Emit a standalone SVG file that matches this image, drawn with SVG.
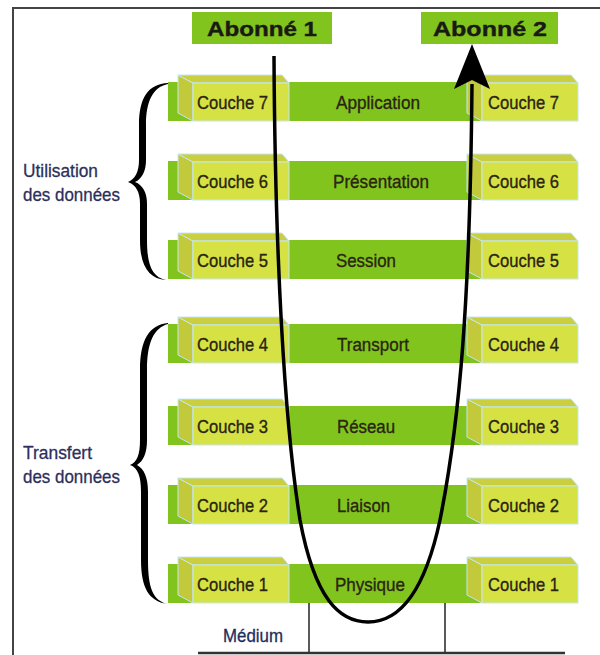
<svg xmlns="http://www.w3.org/2000/svg" xmlns:xlink="http://www.w3.org/1999/xlink" width="600" height="655" viewBox="0 0 600 655">
<style>
.band{fill:#82c41e}
.front{fill:#d6e244;stroke:#c4e6f2;stroke-width:1}
.side{fill:#c2c93a;stroke:#c4e6f2;stroke-width:1}
.top{fill:#c9cf3e;stroke:#c4e6f2;stroke-width:1}
.lbl{font-family:"Liberation Sans",Arial,sans-serif;font-size:19px;fill:#2a2412;stroke:#2a2412;stroke-width:0.35}
.side-lbl{font-family:"Liberation Sans",Arial,sans-serif;font-size:19px;fill:#2d2f5c;stroke:#2d2f5c;stroke-width:0.3}
.ab{font-family:"Liberation Sans",Arial,sans-serif;font-size:21px;font-weight:700;fill:#1a1a14;stroke:#1a1a14;stroke-width:0.4}
.abbox{fill:#82c41e}
.frame{stroke:#444;stroke-width:2;fill:none}
.med{stroke:#222;stroke-width:1.5;fill:none}
.flow{stroke:#000;stroke-width:3.5;fill:none}
</style>
<defs>
<g id="box">
<polygon class="side" points="-15,-7 0,1 0,39 -15,31"/>
<polygon class="top" points="-15,-7 89,-7 96,1 0,1"/>
<rect class="front" x="0" y="1" width="96" height="38"/>
</g>
</defs>

<g id="frame">
<polyline class="frame" points="13,655 13,8 600,8"/>
</g>

<g id="abonne1"><rect class="abbox" x="192" y="12" width="140" height="32"/><text class="ab" x="262" y="36" text-anchor="middle" textLength="110" lengthAdjust="spacingAndGlyphs">Abonné 1</text></g>
<g id="abonne2"><rect class="abbox" x="421" y="12" width="137" height="32"/><text class="ab" x="490" y="36" text-anchor="middle" textLength="114" lengthAdjust="spacingAndGlyphs">Abonné 2</text></g>

<g id="row7">
<rect class="band" x="168" y="82" width="400" height="39"/>
<g id="c7l"><use xlink:href="#box" x="193" y="82"/><text class="lbl" x="197" y="109" textLength="71" lengthAdjust="spacingAndGlyphs">Couche 7</text></g>
<g id="application"><text class="lbl" x="336" y="109" textLength="84" lengthAdjust="spacingAndGlyphs">Application</text></g>
<g id="c7r"><use xlink:href="#box" x="482" y="82"/><text class="lbl" x="488" y="109" textLength="71" lengthAdjust="spacingAndGlyphs">Couche 7</text></g>
</g>

<g id="row6">
<rect class="band" x="168" y="161" width="400" height="39"/>
<g id="c6l"><use xlink:href="#box" x="193" y="161"/><text class="lbl" x="197" y="188" textLength="71" lengthAdjust="spacingAndGlyphs">Couche 6</text></g>
<g id="presentation"><text class="lbl" x="333" y="188" textLength="96" lengthAdjust="spacingAndGlyphs">Présentation</text></g>
<g id="c6r"><use xlink:href="#box" x="482" y="161"/><text class="lbl" x="488" y="188" textLength="71" lengthAdjust="spacingAndGlyphs">Couche 6</text></g>
</g>

<g id="row5">
<rect class="band" x="168" y="240" width="400" height="39"/>
<g id="c5l"><use xlink:href="#box" x="193" y="240"/><text class="lbl" x="197" y="267" textLength="71" lengthAdjust="spacingAndGlyphs">Couche 5</text></g>
<g id="session"><text class="lbl" x="336" y="267" textLength="60" lengthAdjust="spacingAndGlyphs">Session</text></g>
<g id="c5r"><use xlink:href="#box" x="482" y="240"/><text class="lbl" x="488" y="267" textLength="71" lengthAdjust="spacingAndGlyphs">Couche 5</text></g>
</g>

<g id="row4">
<rect class="band" x="168" y="324" width="400" height="39"/>
<g id="c4l"><use xlink:href="#box" x="193" y="324"/><text class="lbl" x="197" y="351" textLength="71" lengthAdjust="spacingAndGlyphs">Couche 4</text></g>
<g id="transport"><text class="lbl" x="337" y="351" textLength="72" lengthAdjust="spacingAndGlyphs">Transport</text></g>
<g id="c4r"><use xlink:href="#box" x="482" y="324"/><text class="lbl" x="488" y="351" textLength="71" lengthAdjust="spacingAndGlyphs">Couche 4</text></g>
</g>

<g id="row3">
<rect class="band" x="168" y="406" width="400" height="39"/>
<g id="c3l"><use xlink:href="#box" x="193" y="406"/><text class="lbl" x="197" y="433" textLength="71" lengthAdjust="spacingAndGlyphs">Couche 3</text></g>
<g id="reseau"><text class="lbl" x="337" y="433" textLength="58" lengthAdjust="spacingAndGlyphs">Réseau</text></g>
<g id="c3r"><use xlink:href="#box" x="482" y="406"/><text class="lbl" x="488" y="433" textLength="71" lengthAdjust="spacingAndGlyphs">Couche 3</text></g>
</g>

<g id="row2">
<rect class="band" x="168" y="485" width="400" height="39"/>
<g id="c2l"><use xlink:href="#box" x="193" y="485"/><text class="lbl" x="197" y="512" textLength="71" lengthAdjust="spacingAndGlyphs">Couche 2</text></g>
<g id="liaison"><text class="lbl" x="337" y="512" textLength="53" lengthAdjust="spacingAndGlyphs">Liaison</text></g>
<g id="c2r"><use xlink:href="#box" x="482" y="485"/><text class="lbl" x="488" y="512" textLength="71" lengthAdjust="spacingAndGlyphs">Couche 2</text></g>
</g>

<g id="row1">
<rect class="band" x="168" y="564" width="400" height="39"/>
<g id="c1l"><use xlink:href="#box" x="193" y="564"/><text class="lbl" x="197" y="591" textLength="71" lengthAdjust="spacingAndGlyphs">Couche 1</text></g>
<g id="physique"><text class="lbl" x="335" y="591" textLength="70" lengthAdjust="spacingAndGlyphs">Physique</text></g>
<g id="c1r"><use xlink:href="#box" x="482" y="564"/><text class="lbl" x="488" y="591" textLength="71" lengthAdjust="spacingAndGlyphs">Couche 1</text></g>
</g>

<g id="medium">
<line class="med" x1="309" y1="603" x2="309" y2="653"/>
<line class="med" x1="445" y1="603" x2="445" y2="653"/>
<line x1="198" y1="653" x2="565" y2="653" stroke="#333" stroke-width="2.5"/>
<text class="side-lbl" x="223" y="642" textLength="60" lengthAdjust="spacingAndGlyphs" style="fill:#1f2c5c;stroke:#1f2c5c">Médium</text>
</g>

<g id="utilisation">
<path d="M168,83 C148,84 139,98 139,125 L139,160 C139,172 135,179 128,182 C136,185 140,192 140,204 L140,240 C140,266 149,279 166,280 C152,277 147,265 147,240 L147,204 C147,193 143,185 135,182 C142,179 146,171 146,160 L146,125 C146,101 153,87 168,84 Z" fill="#000"/>
<text class="side-lbl" x="23" y="177" textLength="75" lengthAdjust="spacingAndGlyphs">Utilisation</text>
<text class="side-lbl" x="23" y="201" textLength="97" lengthAdjust="spacingAndGlyphs">des données</text>
</g>

<g id="transfert">
<path d="M168,323 C149,325 140,340 140,370 L140,440 C140,455 137,462 130,465 C138,468 141,476 141,492 L141,560 C141,588 149,601 167,604 C153,600 148,588 148,560 L148,492 C148,477 144,469 137,465 C143,461 147,454 147,440 L147,370 C147,342 154,328 168,324 Z" fill="#000"/>
<text class="side-lbl" x="23" y="459" textLength="69" lengthAdjust="spacingAndGlyphs">Transfert</text>
<text class="side-lbl" x="23" y="483" textLength="97" lengthAdjust="spacingAndGlyphs">des données</text>
</g>

<g id="connectors">
<path class="flow" d="M274,56 C275,250 284,420 300,520 C315,600 340,622 368,622 C400,622 425,590 440,520 C460,420 470,300 472,84"/>
<polygon points="472,44 490,89 472,80 454,89" fill="#000"/>
</g>
</svg>
